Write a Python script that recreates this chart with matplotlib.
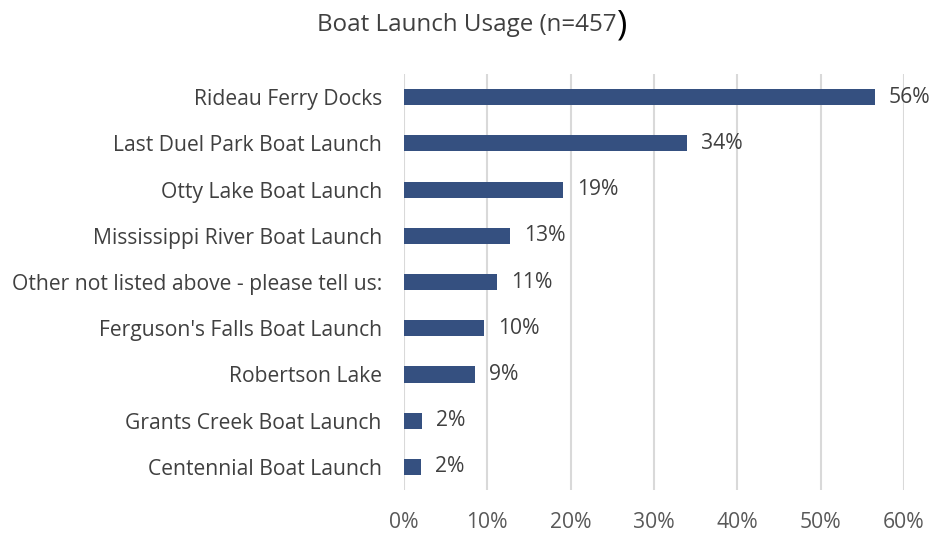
import matplotlib
matplotlib.use("Agg")
import matplotlib.pyplot as plt
from matplotlib.ticker import PercentFormatter

# --- data ---
categories = [
    "Rideau Ferry Docks",
    "Last Duel Park Boat Launch",
    "Otty Lake Boat Launch",
    "Mississippi River Boat Launch",
    "Other not listed above - please tell us:",
    "Ferguson's Falls Boat Launch",
    "Robertson Lake",
    "Grants Creek Boat Launch",
    "Centennial Boat Launch",
]
values = [56.5, 34.0, 19.1, 12.7, 11.2, 9.6, 8.5, 2.2, 2.0]
labels = ["56%", "34%", "19%", "13%", "11%", "10%", "9%", "2%", "2%"]
xticks = [0, 10, 20, 30, 40, 50, 60]

BAR_COLOR = "#355080"
TEXT_COLOR = "#404040"
FS = 15.2

plt.rcParams["font.family"] = ["Open Sans", "DejaVu Sans"]

fig = plt.figure(figsize=(9.36, 5.33), dpi=100)
ax = fig.add_axes([0.4316, 0.0807, 0.5342, 0.7803])

ypos = list(range(len(categories)))[::-1]
ax.barh(ypos, values, height=0.35, color=BAR_COLOR, zorder=3)

for y, v, lab in zip(ypos, values, labels):
    ax.text(v + 1.7, y, lab, va="center", ha="left", fontsize=FS, color=TEXT_COLOR)

ax.set_yticks(ypos)
ax.set_yticklabels(categories, fontsize=FS, color=TEXT_COLOR)
ax.set_ylim(-0.5, 8.5)
ax.set_xlim(0, 60)
ax.set_xticks(xticks)
ax.xaxis.set_major_formatter(PercentFormatter(decimals=0))
ax.tick_params(axis="x", labelsize=FS, labelcolor="#595959", length=0, pad=16)
ax.tick_params(axis="y", length=0, pad=16)

ax.grid(axis="x", color="#d9d9d9", linewidth=1.5, zorder=0)
for s in ax.spines.values():
    s.set_visible(False)

fig.text(0.659, 0.953, "Boat Launch Usage (n=457", ha="right", va="center",
         fontsize=17.4, color=TEXT_COLOR)
fig.text(0.659, 0.953, ")", ha="left", va="center", fontsize=25, color="#000000")

fig.savefig("out.png", dpi=100)
